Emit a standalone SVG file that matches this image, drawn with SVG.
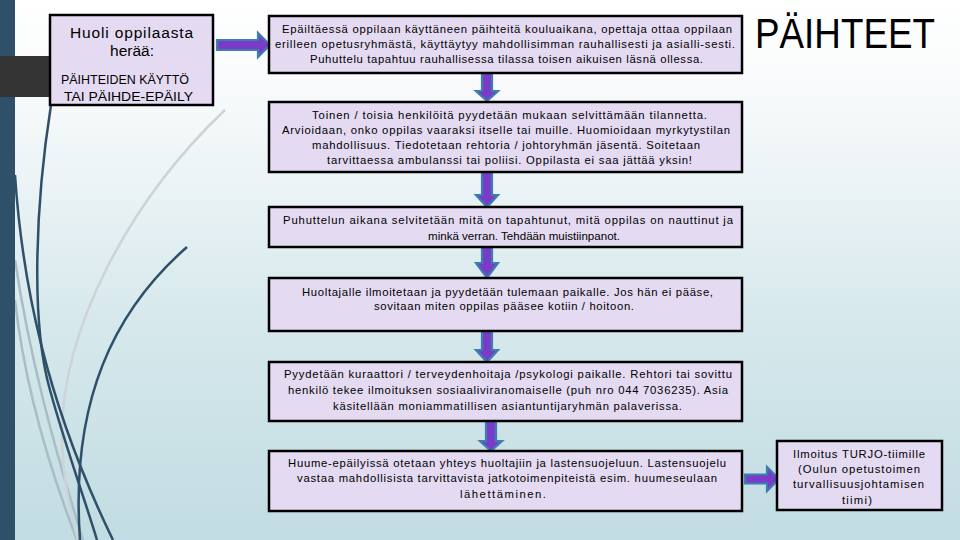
<svg xmlns="http://www.w3.org/2000/svg" width="960" height="540" viewBox="0 0 960 540">
  <defs>
    <linearGradient id="bg" x1="0" y1="0" x2="0" y2="1">
      <stop offset="0" stop-color="#ffffff"/>
      <stop offset="0.2" stop-color="#f6f9fa"/>
      <stop offset="0.6" stop-color="#d6e8ec"/>
      <stop offset="1" stop-color="#c1dce2"/>
    </linearGradient>
    <style>
      .box { fill: #e4dbf2; stroke: #000; stroke-width: 2.5; }
      .t { font-family: "Liberation Sans", Arial, sans-serif; font-size: 11.3px; fill: #000; }
      .tr { font-family: "Liberation Sans", Arial, sans-serif; font-size: 11.3px; fill: #000; }
      .arrow { fill: #7a3cc8; stroke: #3b7fb0; stroke-width: 2.2; stroke-linejoin: miter; }
      .dk { fill: none; stroke: #2e5068; stroke-width: 2.5; }
      .lt { fill: none; stroke: #cdd3d6; stroke-width: 2.5; }
      .lb { fill: none; stroke: #a8bec6; stroke-width: 2.5; }
    </style>
  </defs>

  <rect x="0" y="0" width="960" height="540" fill="url(#bg)"/>

  <g id="decoration">
    <path class="lb" d="M15,260 C30,360 55,450 83,540"/>
    <path class="lb" d="M15,300 C25,390 50,470 77,540"/>
    <path class="lt" d="M225,110 C130,200 60,330 62,440 C63,480 70,510 78,540"/>
    <path class="dk" d="M51,105 C36,200 30,320 50,390 C65,445 85,500 97,540"/>
    <path class="dk" d="M15,175 C22,280 45,400 113,540"/>
    <path class="dk" d="M187,247 C115,310 70,400 80,540"/>
    <rect x="0" y="0" width="15" height="540" fill="#2e5068"/>
    <rect x="0" y="56" width="50" height="41" fill="#333333"/>
  </g>

  <g id="connectors">
    <path class="arrow" d="M217,40 L258,40 L258,33 L270,45 L258,57 L258,50 L217,50 Z"/>
    <path class="arrow" d="M482,73 L492,73 L492,91 L498,91 L487,101 L476,91 L482,91 Z"/>
    <path class="arrow" d="M482,172 L492,172 L492,195 L498,195 L487,207 L476,195 L482,195 Z"/>
    <path class="arrow" d="M482,247 L492,247 L492,263 L498,263 L487,278 L476,263 L482,263 Z"/>
    <path class="arrow" d="M482,331 L492,331 L492,350 L498,350 L487,362 L476,350 L482,350 Z"/>
    <path class="arrow" d="M486,421 L496,421 L496,441 L502,441 L491,451 L480,441 L486,441 Z"/>
    <path class="arrow" d="M745,474.5 L767,474.5 L767,467 L779,479 L767,491 L767,483.5 L745,483.5 Z"/>
  </g>

  <g id="node-start">
    <rect class="box" x="50" y="15" width="163" height="90"/>
    <text font-family="Liberation Sans, Arial, sans-serif" font-size="15.5" fill="#000" x="70" y="38" textLength="123">Huoli oppilaasta</text>
    <text font-family="Liberation Sans, Arial, sans-serif" font-size="15.5" fill="#000" x="110" y="56" textLength="44">herää:</text>
    <text font-family="Liberation Sans, Arial, sans-serif" font-size="13.5" fill="#000" x="61" y="84" textLength="128" lengthAdjust="spacingAndGlyphs">PÄIHTEIDEN KÄYTTÖ</text>
    <text font-family="Liberation Sans, Arial, sans-serif" font-size="13.5" fill="#000" x="64" y="101" textLength="129" lengthAdjust="spacingAndGlyphs">TAI PÄIHDE-EPÄILY</text>
  </g>

  <g id="title">
    <text font-family="Liberation Sans, Arial, sans-serif" font-size="42" fill="#000" x="755" y="48" textLength="180" lengthAdjust="spacingAndGlyphs">PÄIHTEET</text>
  </g>

  <g id="node-1">
    <rect class="box" x="269" y="16" width="473" height="57"/>
    <text class="t" x="282" y="33" textLength="450">Epäiltäessä oppilaan käyttäneen päihteitä kouluaikana, opettaja ottaa oppilaan</text>
    <text class="t" x="275" y="48" textLength="460">erilleen opetusryhmästä, käyttäytyy mahdollisimman rauhallisesti ja asialli-sesti.</text>
    <text class="t" x="310" y="63" textLength="393">Puhuttelu tapahtuu rauhallisessa tilassa toisen aikuisen läsnä ollessa.</text>
  </g>

  <g id="node-2">
    <rect class="box" x="269" y="102" width="473" height="70"/>
    <text class="t" x="312" y="119" textLength="395">Toinen / toisia henkilöitä pyydetään mukaan selvittämään tilannetta.</text>
    <text class="t" x="282" y="134" textLength="448">Arvioidaan, onko oppilas vaaraksi itselle tai muille. Huomioidaan myrkytystilan</text>
    <text class="t" x="312" y="149" textLength="388">mahdollisuus. Tiedotetaan rehtoria / johtoryhmän jäsentä. Soitetaan</text>
    <text class="t" x="327" y="164" textLength="365">tarvittaessa ambulanssi tai poliisi. Oppilasta ei saa jättää yksin!</text>
  </g>

  <g id="node-3">
    <rect class="box" x="269" y="207" width="473" height="40"/>
    <text class="t" x="283" y="224" textLength="450">Puhuttelun aikana selvitetään mitä on tapahtunut, mitä oppilas on nauttinut ja</text>
    <text class="t" x="428" y="240" textLength="192" lengthAdjust="spacingAndGlyphs">minkä verran. Tehdään muistiinpanot.</text>
  </g>

  <g id="node-4">
    <rect class="box" x="269" y="278" width="473" height="53"/>
    <text class="t" x="302" y="296" textLength="411">Huoltajalle ilmoitetaan ja pyydetään tulemaan paikalle. Jos hän ei pääse,</text>
    <text class="t" x="374" y="310" textLength="260">sovitaan miten oppilas pääsee kotiin / hoitoon.</text>
  </g>

  <g id="node-5">
    <rect class="box" x="269" y="362" width="473" height="59"/>
    <text class="t" x="284" y="378" textLength="448">Pyydetään kuraattori / terveydenhoitaja /psykologi paikalle. Rehtori tai sovittu</text>
    <text class="t" x="288" y="394" textLength="440">henkilö tekee ilmoituksen sosiaaliviranomaiselle (puh nro 044 7036235). Asia</text>
    <text class="t" x="333" y="410" textLength="349">käsitellään moniammatillisen asiantuntijaryhmän palaverissa.</text>
  </g>

  <g id="node-6">
    <rect class="box" x="269" y="451" width="473" height="60"/>
    <text class="t" x="288" y="467" textLength="438">Huume-epäilyissä otetaan yhteys huoltajiin ja lastensuojeluun. Lastensuojelu</text>
    <text class="t" x="297" y="482" textLength="420">vastaa mahdollisista tarvittavista jatkotoimenpiteistä esim. huumeseulaan</text>
    <text class="t" x="460" y="498" textLength="86">lähettäminen.</text>
  </g>

  <g id="node-turjo">
    <rect class="box" x="777" y="441" width="165" height="69"/>
    <text class="tr" x="793" y="458" textLength="132">Ilmoitus TURJO-tiimille</text>
    <text class="tr" x="798" y="473" textLength="122">(Oulun opetustoimen</text>
    <text class="tr" x="793" y="488" textLength="131">turvallisuusjohtamisen</text>
    <text class="tr" x="842" y="504" textLength="30">tiimi)</text>
  </g>
</svg>
